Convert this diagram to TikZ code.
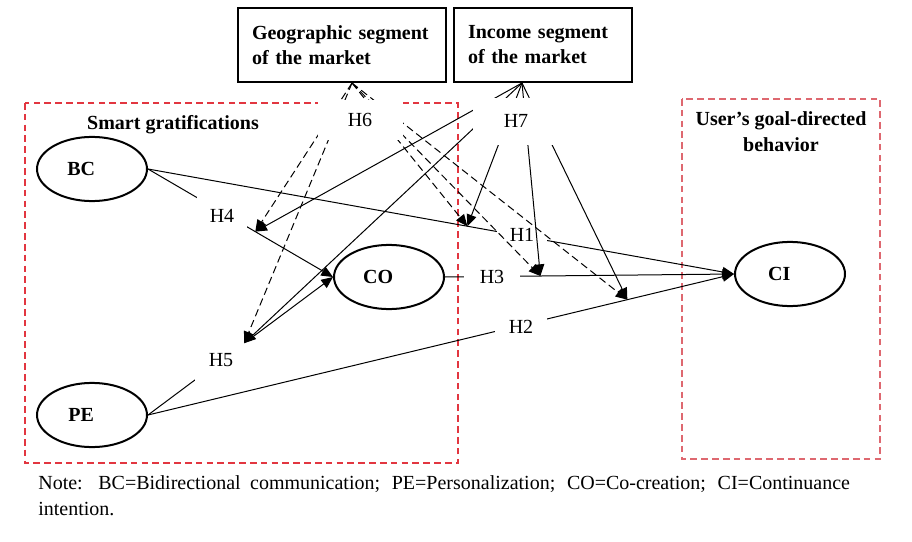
\documentclass[tikz,border=0pt]{standalone}
\usepackage{fontspec}
\setmainfont{Liberation Serif}
\usetikzlibrary{shapes.geometric,arrows.meta}
\definecolor{grpred}{RGB}{226,54,64}
\definecolor{grppink}{RGB}{222,104,112}
\begin{document}
\begin{tikzpicture}[x=0.6pt,y=-0.6pt,
  font=\fontsize{12}{15.6}\selectfont,
  construct/.style={ellipse,draw,line width=1.2pt,minimum width=66pt,minimum height=38.5pt,
    font=\fontsize{12}{15.6}\selectfont\bfseries,execute at begin node={\kern-13pt}},
  segbox/.style={draw,line width=1.2pt,minimum height=44.4pt,inner xsep=8.4pt,align=left,
    font=\fontsize{12}{15}\selectfont\bfseries},
  grouptitle/.style={align=center,font=\fontsize{12}{15.6}\selectfont\bfseries},
  hyp/.style={fill=white,inner sep=0pt},
  link/.style={line width=0.6pt,-{Triangle[length=7pt,width=6pt]}},
  moddash/.style={dash pattern=on 4.5pt off 2.5pt},
  frame/.style={line width=0.7pt,dash pattern=on 4pt off 2.5pt}]
\useasboundingbox (0,0) rectangle (912,541);
% group frames
\draw[frame,grpred] (25,103) rectangle (458,463);
\draw[frame,grppink] (682,99) rectangle (880,459);
\node[grouptitle] (smart) at (173,125) {Smart gratifications};
\node[grouptitle] (goal) at (781,132) {User’s goal-directed\\behavior};
% market segments
\node[segbox,text width=108pt,minimum width=124.8pt] (geo) at (342,45) {Geographic segment\\of the market};
\node[segbox,text width=90pt,minimum width=106.8pt] (inc) at (543,45) {Income segment\\of the market};
\coordinate (gsrc) at ([xshift=6pt]geo.south);
\coordinate (isrc) at ([xshift=-12.6pt]inc.south);
% constructs
\node[construct] (BC) at (92,169) {BC};
\node[construct] (CO) at (389,277) {CO};
\node[construct] (PE) at (92,415) {PE};
\node[construct] (CI) at (790,274) {CI};
% direct paths
\draw[link] (BC.east) -- coordinate[pos=0.58] (m4) (CO.west);
\draw[link] (PE.east) -- coordinate[pos=0.52] (m5) (CO.west);
\draw[link] (BC.east) -- coordinate[pos=0.545] (m1) (CI.west);
\draw[link] (CO.east) -- coordinate[pos=0.33] (m3) (CI.west);
\draw[link] (PE.east) -- coordinate[pos=0.818] (m2) (CI.west);
% hypotheses
\node[hyp,minimum width=30pt,minimum height=22.8pt] (H4) at (222,216) {H4};
\node[hyp,minimum width=31.2pt,minimum height=25.2pt] (H5) at (221,360) {H5};
\node[hyp,minimum width=30pt,minimum height=14.4pt] (H1) at (522,235) {H1};
\node[hyp,minimum width=33.6pt,minimum height=13.2pt] (H3) at (492,277) {H3};
\node[hyp,minimum width=31.2pt,minimum height=16.8pt] (H2) at (521,327) {H2};
% moderating effects
\foreach \m in {m4,m5,m1,m3,m2} {
  \draw[link,moddash] (gsrc) -- (\m);
  \draw[link] (isrc) -- (\m);
}
\node[hyp,minimum width=51pt,minimum height=24pt] (H6) at (360,120) {H6};
\node[hyp,minimum width=51.6pt,minimum height=28.2pt] (H7) at (516,121) {H7};
% note
\node[anchor=north west,inner sep=0pt,text width=487pt,align=justify] (note) at (38,475)
  {Note: BC=Bidirectional communication; PE=Personalization; CO=Co-creation; CI=Continuance\linebreak intention.};
\end{tikzpicture}
\end{document}
